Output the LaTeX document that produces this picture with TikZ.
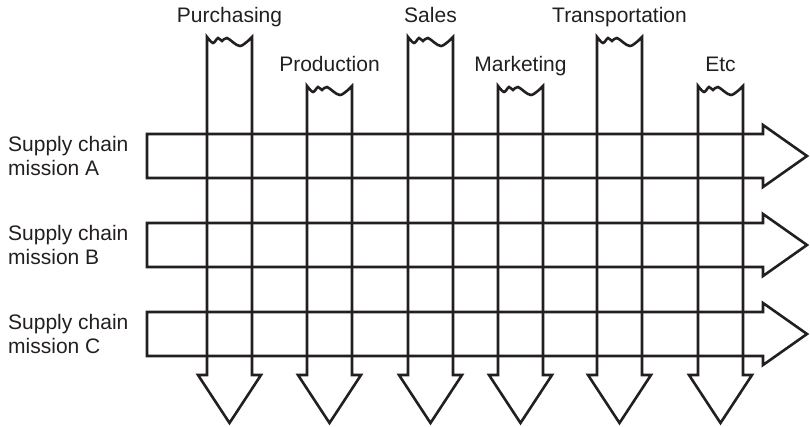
\documentclass[tikz,border=0pt]{standalone}
\usepackage{fontspec}
\setsansfont{Liberation Sans}
\usetikzlibrary{positioning}
\definecolor{inkgray}{RGB}{35, 31, 32}
\tikzset{
	band/.style={draw=inkgray, line width=2.6pt, line join=miter, miter limit=6},
	dept/.style={font=\sffamily\fontsize{21}{24}\selectfont, text=inkgray, anchor=base, inner sep=0pt},
	mission/.style={font=\sffamily\fontsize{21}{24}\selectfont, text=inkgray, align=left, anchor=west, inner sep=0pt},
}
\begin{document}
\begin{tikzpicture}[x=1pt, y=-1pt]
		\useasboundingbox (0,0) rectangle (810,427);
		% functional columns with torn tops
		\foreach \n/\lx/\ty/\txt in {pur/207/37/Purchasing, pro/307/86/Production, sal/408/37/Sales, mar/498/86/Marketing, tra/597/37/Transportation, etc/698/86/Etc}{
			\pgfmathsetmacro\rx{\lx+45}
			\pgfmathsetmacro\cx{\lx+22.5}
			\draw[band] plot[smooth, tension=0.55] coordinates {(\lx,\ty) (\lx+6,\ty+6) (\lx+11,\ty+1) (\lx+15,\ty+4) (\lx+20,\ty+1) (\lx+33,\ty+9) (\rx,\ty)}
				-- (\rx,375) -- (\rx+9,375) -- (\cx,423) -- (\lx-9,375) -- (\lx,375) -- cycle;
			\node[dept] (\n) at (\cx,\ty-14) {\txt};
		}
		% mission rows
		\foreach \n/\cy in {A/156, B/245, C/334}{
			\draw[band] (147,\cy-22) -- (763,\cy-22) -- (763,\cy-31) -- (807,\cy) -- (763,\cy+31) -- (763,\cy+22) -- (147,\cy+22) -- cycle;
			\node[mission] (m\n) at (8,\cy) {Supply chain\\mission \n};
		}
	\end{tikzpicture}
\end{document}
